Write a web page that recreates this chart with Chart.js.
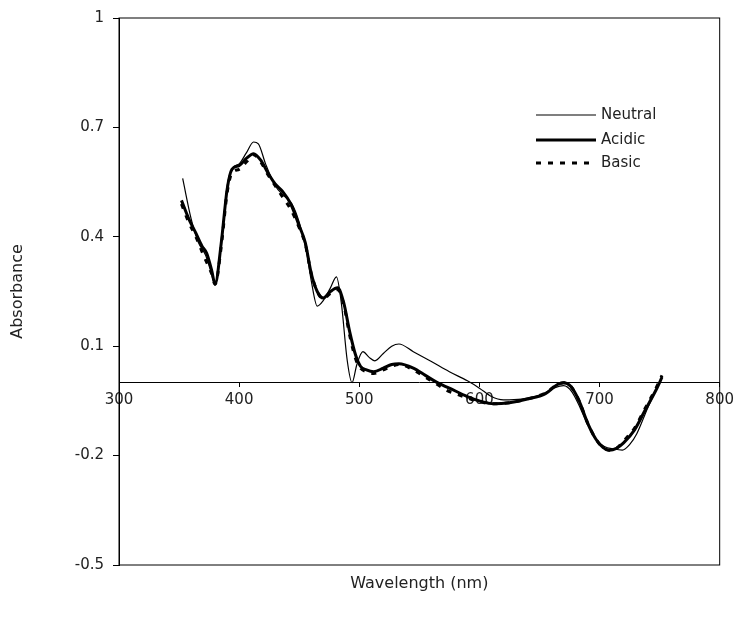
<!DOCTYPE html>
<html>
<head>
<meta charset="utf-8">
<script src="https://cdn.jsdelivr.net/npm/chart.js@4.4.1/dist/chart.umd.min.js"></script>
<style>
  html, body { margin: 0; padding: 0; background: #fff; }
  #wrap { width: 738px; height: 623px; }
</style>
</head>
<body>
<div id="wrap"><canvas id="specChart"></canvas></div>
<script>
// Spectrum data (wavelength in nm, absorbance)
const neutralNm = [353, 360, 366, 372, 376, 380, 385, 390, 395, 400, 406, 412, 416, 422, 430, 438, 444, 450, 456, 460, 465, 470, 476, 481, 485, 490, 494, 498, 503, 508, 513, 520, 527, 533, 545, 560, 575, 590, 600, 610, 620, 635, 650, 662, 670, 677, 684, 690, 697, 704, 712, 719, 725, 731, 740, 747, 752];
const neutralAbs = [0.56, 0.45, 0.385, 0.35, 0.31, 0.27, 0.38, 0.54, 0.59, 0.60, 0.63, 0.66, 0.655, 0.60, 0.54, 0.51, 0.49, 0.44, 0.36, 0.28, 0.21, 0.225, 0.26, 0.29, 0.22, 0.06, 0.0, 0.05, 0.085, 0.07, 0.06, 0.08, 0.10, 0.106, 0.085, 0.058, 0.03, 0.005, -0.015, -0.038, -0.047, -0.045, -0.035, -0.015, -0.008, -0.025, -0.07, -0.115, -0.155, -0.175, -0.182, -0.185, -0.17, -0.14, -0.07, -0.02, 0.015];

const acidicNm = [352, 358, 364, 369, 373, 377, 380, 385, 390, 394, 400, 406, 412, 418, 424, 430, 436, 443, 450, 455, 460, 465, 470, 476, 482, 487, 492, 497, 501, 506, 512, 520, 527, 533, 545, 555, 565, 575, 590, 600, 612, 625, 640, 655, 665, 670, 676, 683, 690, 697, 703, 708, 714, 720, 729, 738, 747, 752];
const acidicAbs = [0.50, 0.45, 0.41, 0.375, 0.355, 0.31, 0.27, 0.38, 0.53, 0.585, 0.595, 0.615, 0.628, 0.61, 0.575, 0.545, 0.525, 0.49, 0.43, 0.385, 0.30, 0.25, 0.232, 0.25, 0.26, 0.22, 0.14, 0.075, 0.045, 0.035, 0.03, 0.04, 0.05, 0.052, 0.04, 0.02, 0.0, -0.015, -0.038, -0.05, -0.058, -0.055, -0.045, -0.03, -0.005, 0.0, -0.01, -0.05, -0.11, -0.155, -0.178, -0.185, -0.18, -0.165, -0.13, -0.075, -0.02, 0.015];

const basicNm = [352, 358, 364, 369, 373, 377, 380, 385, 390, 394, 400, 406, 412, 418, 424, 430, 436, 443, 450, 455, 460, 465, 470, 476, 482, 487, 492, 497, 501, 506, 512, 520, 527, 533, 545, 555, 565, 572, 580, 590, 600, 612, 625, 640, 655, 665, 670, 676, 683, 690, 697, 703, 708, 714, 720, 729, 738, 747, 752];
const basicAbs = [0.49, 0.44, 0.40, 0.36, 0.33, 0.30, 0.27, 0.37, 0.52, 0.575, 0.585, 0.605, 0.625, 0.605, 0.57, 0.54, 0.51, 0.475, 0.425, 0.38, 0.30, 0.25, 0.23, 0.245, 0.255, 0.215, 0.13, 0.065, 0.04, 0.03, 0.025, 0.035, 0.045, 0.05, 0.035, 0.015, -0.005, -0.02, -0.03, -0.042, -0.052, -0.058, -0.055, -0.045, -0.028, -0.005, 0.0, -0.01, -0.05, -0.11, -0.155, -0.178, -0.185, -0.18, -0.16, -0.125, -0.07, -0.015, 0.02];

const yTicks = [-0.5, -0.2, 0.1, 0.4, 0.7, 1];
const xMin = 300, xMax = 800, xStep = 100;

const FONT = 'DejaVu Sans';
const INK = '#222';

function toPoints(xs, ys) {
    return xs.map((x, i) => ({ x: x, y: ys[i] }));
}

// frame round the plot area
const boxPlugin = {
    id: 'box',
    afterDraw(chart) {
        const { ctx, chartArea: a } = chart;
        ctx.save();
        ctx.strokeStyle = '#000';
        ctx.lineWidth = 1;
        ctx.strokeRect(a.left, a.top, a.right - a.left, a.bottom - a.top);
        ctx.restore();
    }
};

// legend inside the plot, top right
const innerLegend = {
    id: 'innerLegend',
    afterDraw(chart) {
        const ctx = chart.ctx;
        const x0 = 536, x1 = 596, tx = 601;
        const rows = [115, 140, 163];
        ctx.save();
        ctx.font = '15px "' + FONT + '"';
        ctx.textBaseline = 'middle';
        ctx.fillStyle = INK;
        chart.data.datasets.forEach((ds, i) => {
            ctx.beginPath();
            ctx.strokeStyle = '#000';
            ctx.lineWidth = ds.borderWidth;
            ctx.setLineDash(ds.borderDash || []);
            ctx.moveTo(x0, rows[i]);
            ctx.lineTo(x1, rows[i]);
            ctx.stroke();
            ctx.setLineDash([]);
            ctx.fillText(ds.label, tx, rows[i]);
        });
        ctx.restore();
    }
};

const ctx = document.getElementById('specChart').getContext('2d');

new Chart(ctx, {
    type: 'line',
    data: {
        datasets: [
            {
                label: 'Neutral',
                data: toPoints(neutralNm, neutralAbs),
                borderColor: '#000',
                borderWidth: 1.2,
                pointRadius: 0,
                cubicInterpolationMode: 'monotone'
            },
            {
                label: 'Acidic',
                data: toPoints(acidicNm, acidicAbs),
                borderColor: '#000',
                borderWidth: 3,
                pointRadius: 0,
                cubicInterpolationMode: 'monotone'
            },
            {
                label: 'Basic',
                data: toPoints(basicNm, basicAbs),
                borderColor: '#000',
                borderWidth: 3,
                borderDash: [5, 7],
                pointRadius: 0,
                cubicInterpolationMode: 'monotone'
            }
        ]
    },
    options: {
        responsive: true,
        maintainAspectRatio: false,
        animation: false,
        layout: { padding: { top: 18, right: 18, left: 0, bottom: 0 } },
        plugins: {
            legend: { display: false },
            tooltip: { enabled: false }
        },
        scales: {
            x: {
                type: 'linear',
                position: { y: 0 },
                min: xMin,
                max: xMax,
                ticks: { stepSize: xStep, color: INK, padding: 4, font: { family: FONT, size: 15 } },
                grid: { drawOnChartArea: false, drawTicks: true, tickLength: 4, color: '#000' },
                border: { display: true, color: '#000', width: 1 }
            },
            x2: {
                type: 'linear',
                position: 'bottom',
                min: xMin,
                max: xMax,
                ticks: { display: false },
                grid: { display: false },
                border: { display: false },
                title: {
                    display: true,
                    text: 'Wavelength (nm)',
                    color: INK,
                    font: { family: FONT, size: 16 },
                    padding: { top: 0, bottom: 30 }
                },
                afterFit: (scale) => { scale.height = 58; }
            },
            y: {
                min: -0.5,
                max: 1,
                afterBuildTicks: (scale) => { scale.ticks = yTicks.map(v => ({ value: v })); },
                ticks: {
                    color: INK,
                    padding: 9,
                    font: { family: FONT, size: 15 },
                    callback: (v) => String(v)
                },
                grid: { drawOnChartArea: false, drawTicks: true, tickLength: 6, color: '#000' },
                border: { display: true, color: '#000', width: 1 },
                title: {
                    display: true,
                    text: 'Absorbance',
                    color: INK,
                    font: { family: FONT, size: 16 },
                    padding: { top: 8, bottom: 0 }
                },
                afterFit: (scale) => { scale.width = 119; }
            }
        }
    },
    plugins: [boxPlugin, innerLegend]
});
</script>
</body>
</html>
